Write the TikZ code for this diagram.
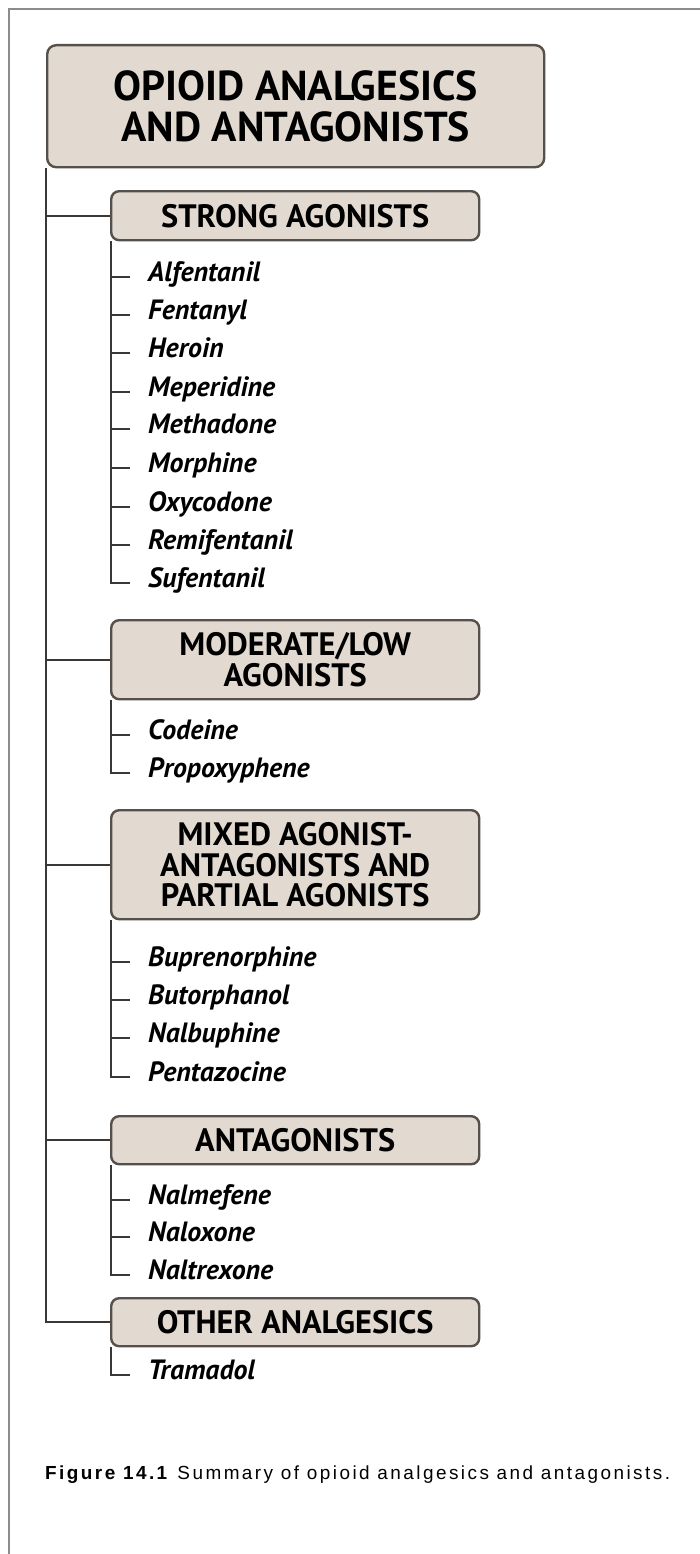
\documentclass[tikz,border=0pt]{standalone}
\usepackage{fontspec}
\setmainfont{PT Sans}
\newfontfamily\capfont[LetterSpace=13]{Liberation Sans}
\definecolor{boxfill}{HTML}{E2DAD1}
\definecolor{boxline}{HTML}{55504B}
\definecolor{connline}{HTML}{3A3835}
\definecolor{framegray}{HTML}{8C8C8C}
\tikzset{
  titlebox/.style={draw=boxline, fill=boxfill, line width=2.4bp, rounded corners=9bp,
    anchor=north west, align=center, inner sep=0pt,
    font=\fontsize{42}{41}\selectfont\bfseries},
  hdrbox/.style={draw=boxline, fill=boxfill, line width=2.4bp, rounded corners=8bp,
    anchor=north west, align=center, inner sep=0pt, minimum width=368bp,
    font=\fontsize{32.5}{31}\selectfont\bfseries},
  drug/.style={anchor=base west, inner sep=0pt,
    font=\fontsize{28}{30}\selectfont\bfseries\itshape},
  conn/.style={draw=connline, line width=2.2bp},
}
\begin{document}
\begin{tikzpicture}[x=1bp,y=-1bp]
\useasboundingbox (0,0) rectangle (700,1554);
\fill[white] (0,0) rectangle (700,1554);
\draw[framegray, line width=2bp] (9,1554) -- (9,9) -- (700,9);

% title
\node[titlebox, minimum width=497bp, minimum height=122bp] (title) at (46,44)
  {OPIOID ANALGESICS\\AND ANTAGONISTS};

% headers
\node[hdrbox, minimum height=49bp] (strong) at (110,190) {STRONG AGONISTS};
\node[hdrbox, minimum height=79bp] (moder) at (110,619) {MODERATE/LOW\\AGONISTS};
\node[hdrbox, minimum height=109bp] (mixed) at (110,809) {MIXED AGONIST-\\ANTAGONISTS AND\\PARTIAL AGONISTS};
\node[hdrbox, minimum height=48bp] (antag) at (110,1115) {ANTAGONISTS};
\node[hdrbox, minimum height=48bp] (other) at (110,1297) {OTHER ANALGESICS};

% drugs (baseline = visual centre + 9)
\node[drug] (s1) at (148,281) {Alfentanil};
\node[drug] (s2) at (148,319) {Fentanyl};
\node[drug] (s3) at (148,357) {Heroin};
\node[drug] (s4) at (148,396) {Meperidine};
\node[drug] (s5) at (148,433) {Methadone};
\node[drug] (s6) at (148,472) {Morphine};
\node[drug] (s7) at (148,511) {Oxycodone};
\node[drug] (s8) at (148,549) {Remifentanil};
\node[drug] (s9) at (148,587) {Sufentanil};

\node[drug] (m1) at (148,739) {Codeine};
\node[drug] (m2) at (148,777) {Propoxyphene};

\node[drug] (x1) at (148,966) {Buprenorphine};
\node[drug] (x2) at (148,1004) {Butorphanol};
\node[drug] (x3) at (148,1042) {Nalbuphine};
\node[drug] (x4) at (148,1081) {Pentazocine};

\node[drug] (a1) at (148,1204) {Nalmefene};
\node[drug] (a2) at (148,1241) {Naloxone};
\node[drug] (a3) at (148,1279) {Naltrexone};

\node[drug] (o1) at (148,1379) {Tramadol};

% trunk and header connectors
\draw[conn] (title.south west) -- (title.south west |- other.west) -- (other.west);
\foreach \h in {strong,moder,mixed,antag}
  \draw[conn] (title.south west |- \h.west) -- (\h.west);

% sub trees
\foreach \h/\last/\items in {strong/s9/{s1,s2,s3,s4,s5,s6,s7,s8},
                             moder/m2/{m1},
                             mixed/x4/{x1,x2,x3},
                             antag/a3/{a1,a2}} {
  \draw[conn] ([xshift=1bp]\h.south west) -- ([xshift=1bp,yshift=4bp]\h.south west |- \last.base)
     -- ([xshift=-18bp,yshift=4bp]\last.base west);
  \foreach \i in \items
    \draw[conn] ([xshift=1bp,yshift=4bp]\h.south west |- \i.base) -- ([xshift=-18bp,yshift=4bp]\i.base west);
}
\draw[conn] ([xshift=1bp]other.south west) -- ([xshift=1bp,yshift=4bp]other.south west |- o1.base)
     -- ([xshift=-18bp,yshift=4bp]o1.base west);

% caption
\node[anchor=base west, inner sep=0pt, font=\capfont\fontsize{19}{22}\selectfont] (cap) at (45,1479)
  {\textbf{Figure 14.1} Summary of opioid analgesics and antagonists.};
\end{tikzpicture}
\end{document}
